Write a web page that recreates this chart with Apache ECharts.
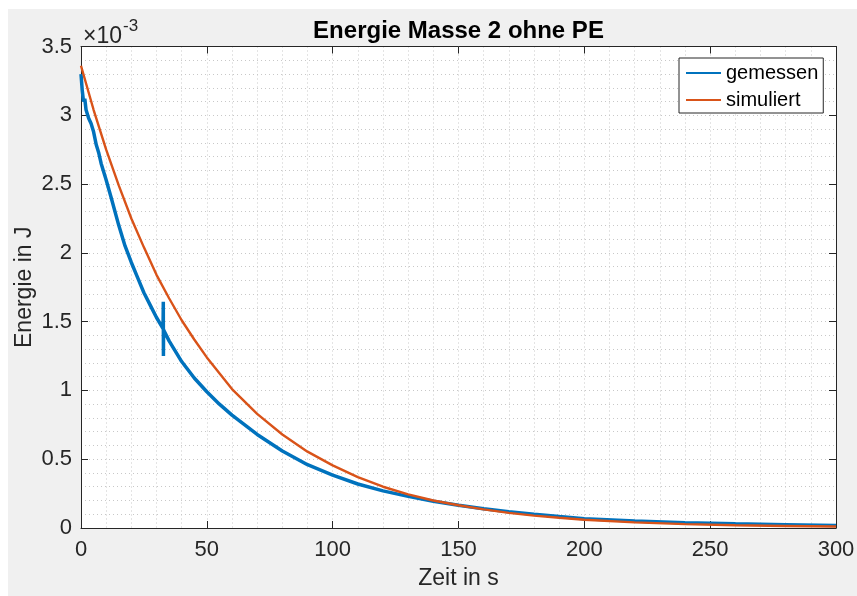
<!DOCTYPE html>
<html>
<head>
<meta charset="utf-8">
<script src="https://cdn.jsdelivr.net/npm/echarts@6/dist/echarts.min.js"></script>
<style>
html,body{margin:0;padding:0;background:#ffffff;}
#chart{position:absolute;left:8px;top:9px;width:849px;height:587px;background:#f0f0f0;}
</style>
</head>
<body>
<div id="chart"></div>
<script>
var titleText = 'Energie Masse 2 ohne PE';
var xName = 'Zeit in s';
var yName = 'Energie in J';
var seriesNames = ['gemessen', 'simuliert'];
var xTicks = [0, 50, 100, 150, 200, 250, 300];
var yTicks = [0, 0.5, 1, 1.5, 2, 2.5, 3, 3.5];
// time in s, energy in 1e-3 J
var gemessenT = [0,0.5,1,1.5,2,3,4,5,6,7,8,9,10,12,15,17.5,20,22.5,25,27.5,30,32.6,32.7,32.75,32.8,35,40,45,50,55,60,70,80,90,100,110,120,130,140,150,160,170,180,190,200,220,240,260,280,300];
var gemessenE = [3.30,3.18,3.10,3.12,3.04,2.98,2.94,2.88,2.79,2.73,2.65,2.59,2.53,2.40,2.20,2.05,1.93,1.82,1.71,1.62,1.53,1.45,1.645,1.25,1.44,1.36,1.21,1.09,0.99,0.90,0.82,0.68,0.56,0.46,0.385,0.32,0.27,0.23,0.195,0.165,0.14,0.118,0.10,0.083,0.068,0.05,0.038,0.03,0.024,0.018];
var simuliertT = [0,5,10,15,20,25,30,35,40,45,50,60,70,80,90,100,110,120,130,140,150,160,170,180,190,200,220,240,260,280,300];
var simuliertE = [3.36,3.04,2.75,2.49,2.25,2.04,1.84,1.67,1.51,1.37,1.24,1.01,0.83,0.68,0.555,0.455,0.37,0.30,0.245,0.20,0.165,0.135,0.11,0.09,0.074,0.06,0.041,0.028,0.02,0.015,0.011];

function zip(a, b){ return a.map(function(v,i){ return [v, b[i]]; }); }

var axisCol = '#262626';
var font = 'Liberation Sans, Arial, Helvetica, sans-serif';
var gridDash = {color:'#c8c8c8', type:[1,3], width:1};

var chart = echarts.init(document.getElementById('chart'));
var common = {
  axisLine:{show:true, onZero:false, lineStyle:{color:axisCol, width:1}},
  axisTick:{show:true, inside:true, length:7, lineStyle:{color:axisCol}},
  minorTick:{show:false, splitNumber:5}
};
chart.setOption({
  backgroundColor:'#f0f0f0',
  animation:false,
  title:{text:titleText, left:450.5, textAlign:'center', top:10, padding:0,
    textStyle:{fontFamily:font, fontSize:24, fontWeight:'bold', color:'#000'}},
  grid:{left:73, right:21, top:37.5, bottom:68, containLabel:false, outerBoundsMode:'none',
    show:true, backgroundColor:'#ffffff', borderWidth:0},
  legend:{
    data:seriesNames, orient:'vertical', left:671, top:49,
    backgroundColor:'#ffffff', borderColor:axisCol, borderWidth:1, borderRadius:0,
    padding:[4,5,2,7], itemGap:5, itemWidth:35, itemHeight:2, icon:'rect',
    textStyle:{fontFamily:font, fontSize:20, color:'#000', lineHeight:22}
  },
  xAxis:[
    Object.assign({type:'value', min:xTicks[0], max:xTicks[xTicks.length-1], interval:50, position:'bottom',
      name:xName, nameLocation:'middle', nameGap:39, nameMoveOverlap:false,
      nameTextStyle:{fontFamily:font, fontSize:23, color:axisCol},
      axisLabel:{fontFamily:font, fontSize:22, color:axisCol, margin:11},
      splitLine:{show:true, lineStyle:gridDash},
      minorSplitLine:{show:true, lineStyle:gridDash}}, common),
    Object.assign({type:'value', min:xTicks[0], max:xTicks[xTicks.length-1], interval:50, position:'top',
      axisLabel:{show:false}, splitLine:{show:false}}, common)
  ],
  yAxis:[
    Object.assign({type:'value', min:yTicks[0], max:yTicks[yTicks.length-1], interval:0.5, position:'left',
      name:yName, nameLocation:'middle', nameGap:45, nameMoveOverlap:false,
      nameTextStyle:{fontFamily:font, fontSize:23, color:axisCol},
      axisLabel:{fontFamily:font, fontSize:22, color:axisCol, margin:9},
      splitLine:{show:true, lineStyle:gridDash},
      minorSplitLine:{show:true, lineStyle:gridDash}}, common),
    Object.assign({type:'value', min:yTicks[0], max:yTicks[yTicks.length-1], interval:0.5, position:'right',
      axisLabel:{show:false}, splitLine:{show:false}}, common)
  ],
  graphic:[
    {type:'text', left:75, top:16, style:{text:'\u00d710', font:'23px '+font, fill:axisCol}},
    {type:'text', left:115, top:9, style:{text:'-3', font:'17px '+font, fill:axisCol}}
  ],
  series:[
    {name:seriesNames[0], type:'line', xAxisIndex:0, yAxisIndex:0, showSymbol:false,
      data:zip(gemessenT, gemessenE), lineStyle:{color:'#0072BD', width:3.5}, itemStyle:{color:'#0072BD'}},
    {name:seriesNames[1], type:'line', xAxisIndex:0, yAxisIndex:0, showSymbol:false,
      data:zip(simuliertT, simuliertE), lineStyle:{color:'#D95319', width:2.4}, itemStyle:{color:'#D95319'}}
  ]
});
</script>
</body>
</html>
